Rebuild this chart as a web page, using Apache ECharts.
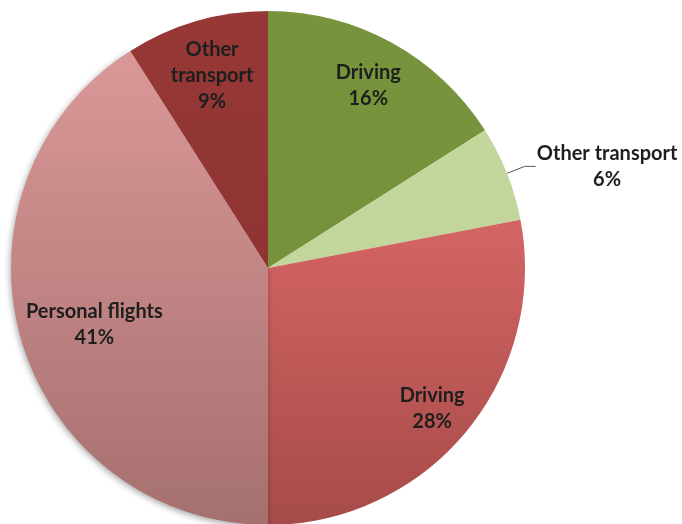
<!DOCTYPE html>
<html>
<head>
<meta charset="utf-8">
<script src="https://cdn.jsdelivr.net/npm/echarts@6/dist/echarts.min.js"></script>
<style>
  html, body { margin: 0; padding: 0; background: #ffffff; }
  #chart { width: 682px; height: 524px; }
</style>
</head>
<body>
<div id="chart"></div>
<script>
// Share of emissions by activity, clockwise from 12 o'clock
const categories = ['Driving', 'Other transport', 'Driving', 'Personal flights', 'Other transport'];
const shares = [16, 6, 28, 41, 9];

// Slice fills: [top colour, bottom colour]
const fills = [
  ['#77933c', '#76923b'],
  ['#c3d69b', '#c2d59a'],
  ['#d46564', '#a64b49'],
  ['#da9897', '#a5706f'],
  ['#963836', '#8e3433']
];
// Inside label placement: distance from the centre as a fraction of the radius
// (0 = outside label) and a small turn (degrees) away from the slice's mid-angle
const labelReach = [0.81, 0, 0.84, 0.71, 0.78];
const labelTurn = [0, 0, 0.9, -1.7, 0];

const CX = 268, CY = 268, R = 257;
const FONT = 'Lato, "Liberation Sans", sans-serif';
const FONT_SIZE = 20;

const chart = echarts.init(document.getElementById('chart'), null, { renderer: 'canvas' });

const data = categories.map(function (name, i) {
  const item = {
    name: name,
    value: shares[i],
    itemStyle: {
      color: new echarts.graphic.LinearGradient(0, 0, 0, 1, [
        { offset: 0, color: fills[i][0] },
        { offset: 1, color: fills[i][1] }
      ])
    }
  };
  if (i === 3) {
    item.itemStyle.shadowBlur = 6;
    item.itemStyle.shadowColor = 'rgba(0,0,0,0.35)';
    item.itemStyle.shadowOffsetX = -1;
    item.itemStyle.shadowOffsetY = 2;
  }
  if (labelReach[i] === 0) {
    item.label = {
      position: 'outside',
      formatter: '{t|{b}}\n{t|{c}%}',
      distanceToLabelLine: 0,
      rich: {
        t: { width: 143, align: 'center', fontFamily: FONT, fontSize: FONT_SIZE, fontWeight: 'bold', color: '#1e1e1e', lineHeight: 26 }
      }
    };
    item.labelLine = { show: true, length: 19, length2: 11, smooth: false, lineStyle: { color: '#555', width: 1 } };
  }
  return item;
});

// The narrow dark-red slice wraps its name onto two lines
function insideText(p) {
  const name = p.dataIndex === 4 ? 'Other\ntransport' : p.name;
  return name + '\n' + p.value + '%';
}

chart.setOption({
  animation: false,
  backgroundColor: '#ffffff',
  series: [{
    type: 'pie',
    center: [CX, CY],
    radius: [0, R],
    startAngle: 90,
    clockwise: true,
    avoidLabelOverlap: false,
    silent: true,
    itemStyle: { borderWidth: 0 },
    emphasis: { disabled: true },
    label: {
      show: true,
      position: 'inside',
      formatter: insideText,
      fontFamily: FONT,
      fontSize: FONT_SIZE,
      fontWeight: 'bold',
      color: '#1e1e1e',
      lineHeight: 26,
      align: 'center'
    },
    labelLine: { show: false },
    labelLayout: function (p) {
      const k = labelReach[p.dataIndex];
      if (!k) return {};
      const lx = p.labelRect.x + p.labelRect.width / 2;
      const ly = p.labelRect.y + p.labelRect.height / 2;
      // angle measured clockwise from 12 o'clock
      const theta = Math.atan2(lx - CX, CY - ly) + labelTurn[p.dataIndex] * Math.PI / 180;
      return {
        x: CX + k * R * Math.sin(theta),
        y: CY - k * R * Math.cos(theta),
        align: 'center',
        verticalAlign: 'middle'
      };
    },
    data: data
  }]
});
</script>
</body>
</html>
